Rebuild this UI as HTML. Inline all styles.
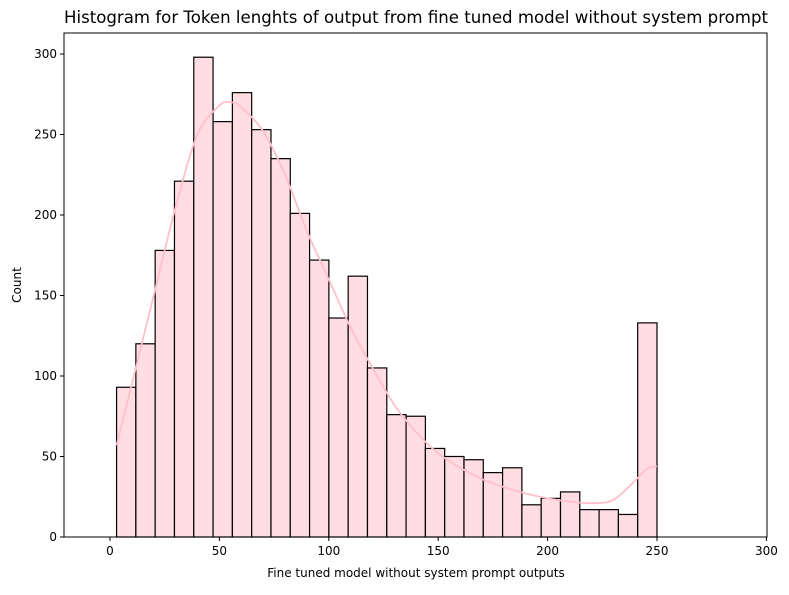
<!DOCTYPE html>
<html><head><meta charset="utf-8"><style>
body{margin:0;background:#fff;font-family:"Liberation Sans","DejaVu Sans",sans-serif}
</style></head><body>
<svg id="chart" width="789" height="590" xmlns="http://www.w3.org/2000/svg" font-family="DejaVu Sans, Liberation Sans, sans-serif">
<text x="416" y="23" text-anchor="middle" font-size="16.5" textLength="704" lengthAdjust="spacingAndGlyphs">Histogram for Token lenghts of output from fine tuned model without system prompt</text>
<g id="bars"></g><g id="ticks"></g>
<path id="kde" fill="none" stroke="#ffc0cb" stroke-width="1.8"/>
<rect x="64" y="33" width="703" height="504" fill="none" stroke="#000" stroke-width="1"/>
<text x="416" y="577" text-anchor="middle" font-size="12">Fine tuned model without system prompt outputs</text>
<text transform="translate(21,285) rotate(-90)" text-anchor="middle" font-size="12">Count</text>
</svg>
<script>
const binStart = 3, binEnd = 250;
const counts = [93,120,178,221,298,258,276,253,235,201,172,136,162,105,76,75,55,50,48,40,43,20,24,28,17,17,14,133];
const kdeX = [3,10,20,30,40,50,55,60,70,80,90,100,110,120,130,140,150,160,170,180,190,200,210,220,230,240,245,250];
const kdeY = [57,95,150,205,250,268,270,267,252,225,190,160,130,105,82,65,52,43,36,31,27,24,22,21,23,35,42,44];
const xTicks = [0,50,100,150,200,250,300];
const yTicks = [0,50,100,150,200,250,300];
const NS="http://www.w3.org/2000/svg";
const xs = v => 110 + v*(657-110)/250;
const ys = v => 537 - v*(537-54)/300;
const bars=document.getElementById('bars');
const w=(binEnd-binStart)/counts.length;
counts.forEach((c,i)=>{
  const r=document.createElementNS(NS,'rect');
  const x0=xs(binStart+i*w), x1=xs(binStart+(i+1)*w);
  r.setAttribute('x',x0);r.setAttribute('y',ys(c));
  r.setAttribute('width',x1-x0);r.setAttribute('height',ys(0)-ys(c));
  r.setAttribute('fill','#ffdde3');r.setAttribute('stroke','#000');r.setAttribute('stroke-width','1.2');
  
  
  bars.appendChild(r);
});
const tg=document.getElementById('ticks');
xTicks.forEach(t=>{
  const l=document.createElementNS(NS,'line');
  l.setAttribute('x1',xs(t));l.setAttribute('x2',xs(t));l.setAttribute('y1',537);l.setAttribute('y2',541);l.setAttribute('stroke','#000');
  
  
  tg.appendChild(l);
  const tx=document.createElementNS(NS,'text');
  tx.setAttribute('x',xs(t));tx.setAttribute('y',555);tx.setAttribute('text-anchor','middle');tx.setAttribute('font-size','12');
  tx.textContent=t;
  
  
  tg.appendChild(tx);
});
yTicks.forEach(t=>{
  const l=document.createElementNS(NS,'line');
  l.setAttribute('x1',60);l.setAttribute('x2',64);l.setAttribute('y1',ys(t));l.setAttribute('y2',ys(t));l.setAttribute('stroke','#000');
  
  
  tg.appendChild(l);
  const tx=document.createElementNS(NS,'text');
  tx.setAttribute('x',57);tx.setAttribute('y',ys(t)+4);tx.setAttribute('text-anchor','end');tx.setAttribute('font-size','12');
  tx.textContent=t;
  
  
  tg.appendChild(tx);
});
const P=kdeX.map((x,i)=>[xs(x),ys(kdeY[i])]);
let d='M'+P[0][0]+','+P[0][1];
for(let i=0;i<P.length-1;i++){
  const p0=P[Math.max(0,i-1)],p1=P[i],p2=P[i+1],p3=P[Math.min(P.length-1,i+2)];
  const c1=[p1[0]+(p2[0]-p0[0])/6,p1[1]+(p2[1]-p0[1])/6];
  const c2=[p2[0]-(p3[0]-p1[0])/6,p2[1]-(p3[1]-p1[1])/6];
  d+=` C${c1[0]},${c1[1]} ${c2[0]},${c2[1]} ${p2[0]},${p2[1]}`;
}
document.getElementById('kde').setAttribute('d',d);
</script>
</body></html>
